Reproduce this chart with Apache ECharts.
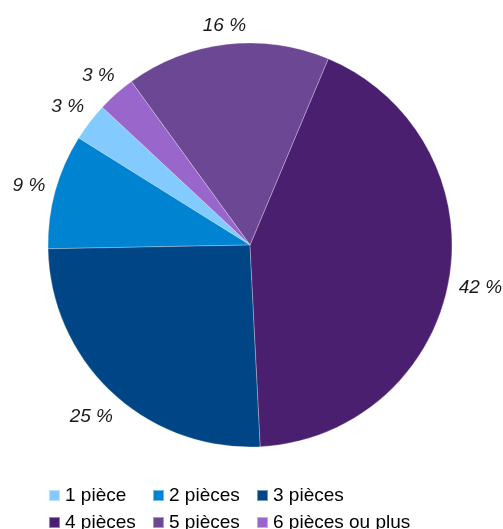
<!DOCTYPE html>
<html>
<head>
<meta charset="utf-8">
<script src="https://cdn.jsdelivr.net/npm/echarts@6/dist/echarts.min.js"></script>
<style>
  html, body { margin: 0; padding: 0; background: #fff; }
  #chart { width: 503px; height: 529px; }
</style>
</head>
<body>
<div id="chart"></div>
<script>
// Répartition des logements selon le nombre de pièces (en %)
const categories = ['1 pièce', '2 pièces', '3 pièces', '4 pièces', '5 pièces', '6 pièces ou plus'];
const percents = [3, 9, 25, 42, 16, 3];
const colors = ['#83caff', '#0084d1', '#004586', '#4b1f6f', '#6b4794', '#9966cc'];

const CX = 250, CY = 245, R = 202;
const LABEL_GAP = 9; // distance between the pie edge and the nearest corner of a label

const chart = echarts.init(document.getElementById('chart'), null, { renderer: 'canvas' });

const FONT = 'Liberation Sans, Arial, sans-serif';

// Legend: three fixed-width columns, two rows
const COL_LEFT = [43, 147, 251];
const ROW_TOP = [481, 508];
const legends = categories.map((name, i) => ({
  data: [name],
  left: COL_LEFT[i % 3],
  top: ROW_TOP[Math.floor(i / 3)],
  itemWidth: 11, itemHeight: 11,
  icon: 'rect',
  textStyle: { fontFamily: FONT, fontSize: 19, color: '#000' }
}));

chart.setOption({
  animation: false,
  color: colors,
  legend: legends,
  series: [{
    type: 'pie',
    center: [CX, CY],
    radius: [0, R],
    startAngle: 137,
    clockwise: false,
    avoidLabelOverlap: false,
    itemStyle: { borderColor: 'rgba(255,255,255,0.45)', borderWidth: 0.6 },
    emphasis: { disabled: true },
    label: {
      show: true,
      position: 'inside',
      formatter: p => p.value + ' %',
      fontFamily: FONT,
      fontStyle: 'italic',
      fontSize: 19,
      color: '#1a1a1a'
    },
    labelLine: { show: false },
    // Push each label outward along its slice's bisector so that the
    // label box sits just outside the pie.
    labelLayout: function (params) {
      const r = params.labelRect;
      const lx = r.x + r.width / 2, ly = r.y + r.height / 2;
      let dx = lx - CX, dy = ly - CY;
      const len = Math.sqrt(dx * dx + dy * dy) || 1;
      dx /= len; dy /= len;
      const hw = r.width / 2, hh = r.height / 2;
      const d = R + LABEL_GAP + hw * Math.abs(dx) + hh * Math.abs(dy);
      return { x: CX + dx * d, y: CY + dy * d + 2, align: 'center', verticalAlign: 'middle' };
    },
    data: categories.map((name, i) => ({ name: name, value: percents[i] }))
  }]
});
</script>
</body>
</html>
